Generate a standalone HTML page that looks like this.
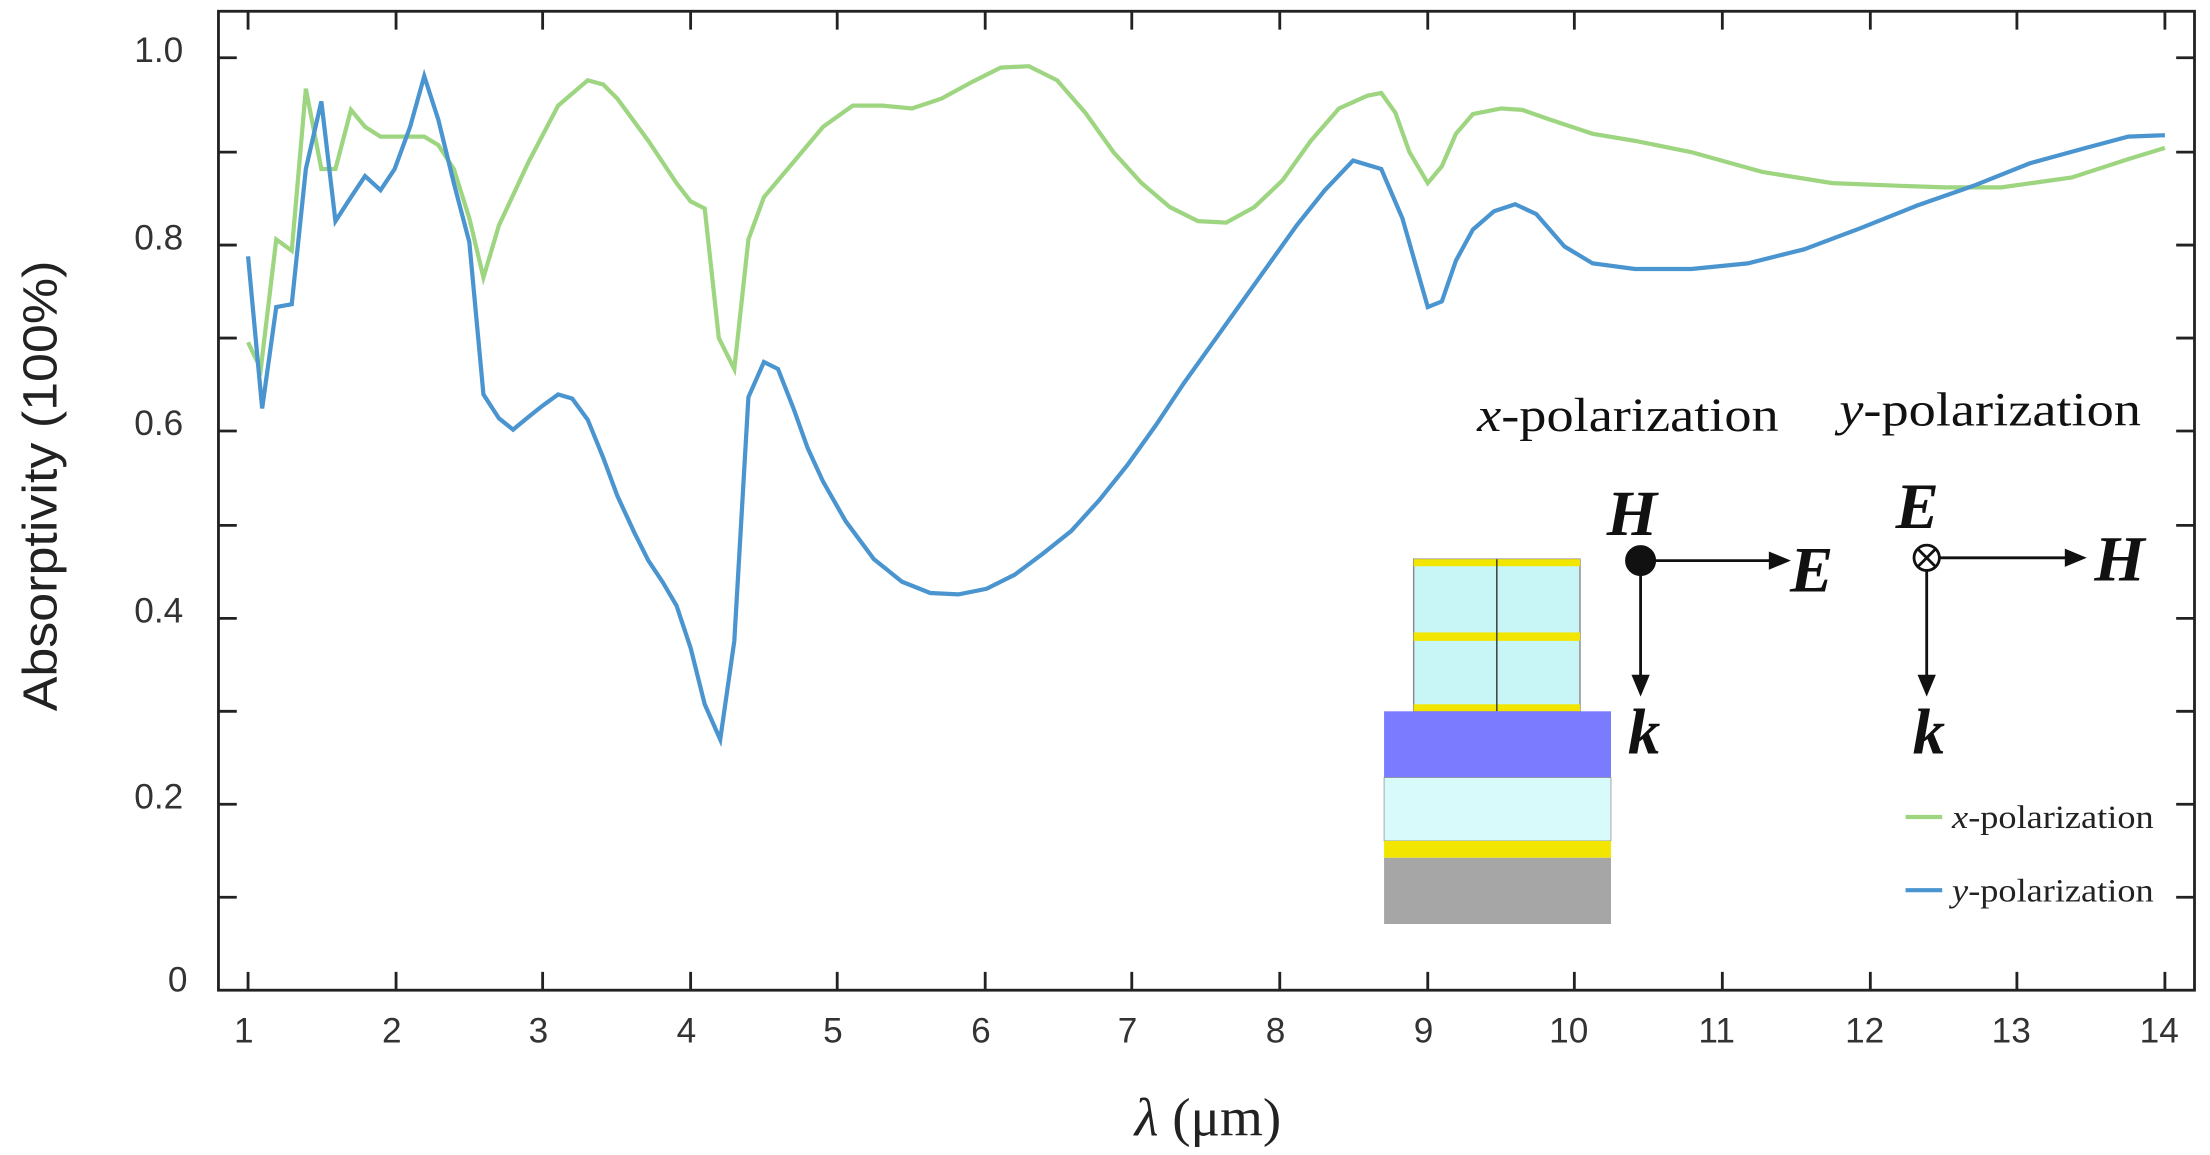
<!DOCTYPE html>
<html><head><meta charset="utf-8"><style>html,body{margin:0;padding:0;background:#fff;width:2210px;height:1155px;overflow:hidden}svg{display:block}</style></head>
<body>
<svg width="2210" height="1155" viewBox="0 0 1568 820" preserveAspectRatio="none" xmlns="http://www.w3.org/2000/svg">
<rect width="1568" height="820" fill="#fff"/>
<rect x="155" y="8" width="1402" height="695" fill="none" stroke="#222" stroke-width="2"/>
<g stroke="#222" stroke-width="2">
<path d="M155 41h13M155 108h13M155 174h13M155 240h13M155 306h13M155 373h13M155 439h13M155 505h13M155 571h13M155 637h13"/>
<path d="M1557 41h-13M1557 108h-13M1557 174h-13M1557 240h-13M1557 306h-13M1557 373h-13M1557 439h-13M1557 505h-13M1557 571h-13M1557 637h-13"/>
<path d="M176 703v-13M281 703v-13M385 703v-13M490 703v-13M594 703v-13M699 703v-13M803 703v-13M908 703v-13M1013 703v-13M1117 703v-13M1222 703v-13M1327 703v-13M1431 703v-13M1536 703v-13"/>
<path d="M176 8v13M281 8v13M385 8v13M490 8v13M594 8v13M699 8v13M803 8v13M908 8v13M1013 8v13M1117 8v13M1222 8v13M1327 8v13M1431 8v13M1536 8v13"/>
</g>
<g font-family="Liberation Sans, sans-serif" font-size="25" fill="#333" text-anchor="end">
<text x="130" y="44">1.0</text><text x="130" y="177">0.8</text><text x="130" y="309">0.6</text><text x="130" y="442">0.4</text><text x="130" y="574">0.2</text><text x="133" y="704">0</text>
</g>
<g font-family="Liberation Sans, sans-serif" font-size="25" fill="#333" text-anchor="middle">
<text x="173" y="740">1</text><text x="278" y="740">2</text><text x="382" y="740">3</text><text x="487" y="740">4</text><text x="591" y="740">5</text><text x="696" y="740">6</text><text x="800" y="740">7</text><text x="905" y="740">8</text><text x="1010" y="740">9</text><text x="1113" y="740">10</text><text x="1218" y="740">11</text><text x="1323" y="740">12</text><text x="1427" y="740">13</text><text x="1532" y="740">14</text>
</g>
<text transform="translate(40,345) rotate(-90)" font-family="Liberation Sans, sans-serif" font-size="34" fill="#222" text-anchor="middle" textLength="320" lengthAdjust="spacingAndGlyphs">Absorptivity (100%)</text>
<text x="805" y="806" font-family="Liberation Serif, serif" font-size="38" fill="#222" textLength="104" lengthAdjust="spacingAndGlyphs"><tspan font-style="italic">λ</tspan> (μm)</text>
<polyline fill="none" stroke="#9ed581" stroke-width="3" points="176,243 185,262 196,170 207,178 217,63 228,120 238,120 249,78 259,90 270,97 280,97 291,97 301,97 311,103 322,120 333,155 343,197 354,160 375,115 396,75 417,57 428,60 438,70 460,100 480,130 490,143 500,148 510,240 521,262 531,170 542,140 563,115 584,90 605,75 626,75 647,77 668,70 690,58 710,48 730,47 750,57 770,80 790,108 810,130 830,147 850,157 870,158 890,147 910,128 930,100 950,77 970,68 980,66 990,80 1000,108 1013,130 1023,118 1033,95 1045,81 1065,77 1080,78 1100,85 1130,95 1160,100 1200,108 1250,122 1300,130 1350,132 1380,133 1420,133 1470,126 1510,113 1536,105"/>
<polyline fill="none" stroke="#4a95cf" stroke-width="3" points="176,182 186,290 196,218 207,216 217,120 228,72 238,157 249,140 259,125 270,135 280,120 291,90 301,54 311,85 322,130 333,172 343,280 354,297 364,305 375,296 385,288 396,280 406,283 417,298 428,325 438,352 450,378 460,398 470,413 480,430 490,460 500,500 511,525 521,455 531,282 542,257 552,262 563,290 573,318 584,342 600,370 620,397 640,413 660,421 680,422 700,418 720,408 740,393 760,377 780,355 800,330 820,302 840,272 860,244 880,216 900,188 920,160 940,135 960,114 980,120 995,155 1013,218 1023,214 1033,185 1045,163 1060,150 1075,145 1090,152 1110,175 1130,187 1160,191 1200,191 1240,187 1280,177 1320,162 1360,146 1400,132 1440,116 1480,105 1510,97 1536,96"/>
<rect x="1003" y="397" width="118" height="108" fill="#c8f6f6" stroke="#888" stroke-width="1"/>
<rect x="1003" y="397" width="118" height="5" fill="#f2e600"/>
<rect x="1003" y="449" width="118" height="6" fill="#f2e600"/>
<rect x="1003" y="500" width="118" height="5" fill="#f2e600"/>
<line x1="1062" y1="397" x2="1062" y2="505" stroke="#333" stroke-width="1"/>
<rect x="982" y="505" width="161" height="47" fill="#7b7bff"/>
<rect x="982" y="552" width="161" height="45" fill="#d8fafa" stroke="#888" stroke-width="0.5"/>
<rect x="982" y="597" width="161" height="12" fill="#f2e600"/>
<rect x="982" y="609" width="161" height="47" fill="#a6a6a6"/>
<g font-family="Liberation Serif, serif" font-size="34" fill="#111">
<text x="1048" y="306" textLength="214" lengthAdjust="spacingAndGlyphs"><tspan font-style="italic">x</tspan>-polarization</text>
<text x="1305" y="302" textLength="214" lengthAdjust="spacingAndGlyphs"><tspan font-style="italic">y</tspan>-polarization</text>
</g>
<g font-family="Liberation Serif, serif" font-size="46" font-weight="bold" font-style="italic" fill="#111">
<text x="1140" y="380">H</text><text x="1270" y="420">E</text><text x="1155" y="535">k</text>
<text x="1345" y="375">E</text><text x="1486" y="412">H</text><text x="1357" y="535">k</text>
</g>
<g stroke="#111" stroke-width="2" fill="#111">
<circle cx="1164" cy="398" r="10"/>
<line x1="1164" y1="398" x2="1258" y2="398"/><path d="M1268 398l-12-5v10z"/>
<line x1="1164" y1="398" x2="1164" y2="482"/><path d="M1164 492l-5-12h10z"/>
<circle cx="1367" cy="396" r="9" fill="#fff"/><path d="M1361 390l12 12M1373 390l-12 12" />
<line x1="1376" y1="396" x2="1468" y2="396"/><path d="M1478 396l-12-5v10z"/>
<line x1="1367" y1="405" x2="1367" y2="482"/><path d="M1367 492l-5-12h10z"/>
</g>
<line x1="1352" y1="580" x2="1378" y2="580" stroke="#9ed581" stroke-width="3"/>
<line x1="1352" y1="632" x2="1378" y2="632" stroke="#4a95cf" stroke-width="3"/>
<g font-family="Liberation Serif, serif" font-size="23" fill="#222">
<text x="1385" y="588" textLength="143" lengthAdjust="spacingAndGlyphs"><tspan font-style="italic">x</tspan>-polarization</text>
<text x="1385" y="640" textLength="143" lengthAdjust="spacingAndGlyphs"><tspan font-style="italic">y</tspan>-polarization</text>
</g>
</svg>
</body></html>
